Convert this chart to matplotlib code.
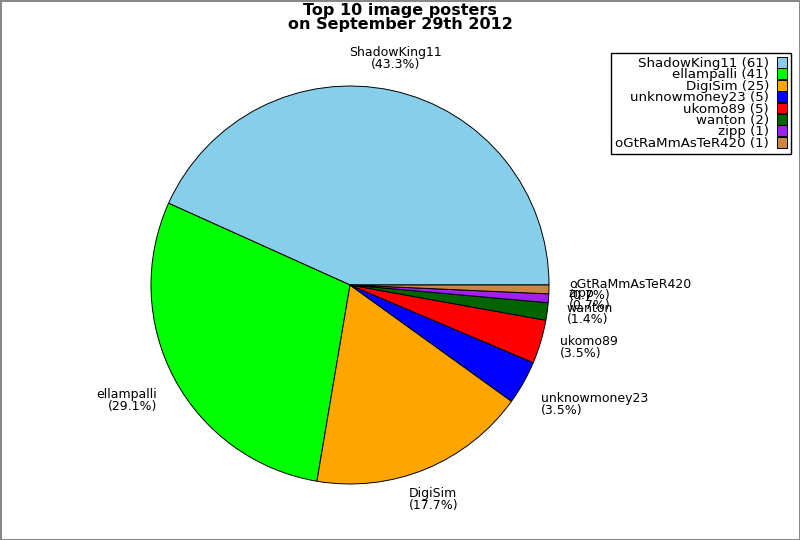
import numpy as np
import matplotlib.pyplot as plt

names = ['ShadowKing11', 'ellampalli', 'DigiSim', 'unknowmoney23',
         'ukomo89', 'wanton', 'zipp', 'oGtRaMmAsTeR420']
counts = [61, 41, 25, 5, 5, 2, 1, 1]
colors = ['#87CEEB', '#00FF00', '#FFA500', '#0000FF',
          '#FF0000', '#006400', '#A020F0', '#CD853F']
title = 'Top 10 image posters\non September 29th 2012'

total = float(sum(counts))
labels = ['%s\n(%.1f%%)' % (n, 100.0 * c / total) for n, c in zip(names, counts)]

fig = plt.figure(figsize=(8, 5.4), dpi=100)
fig.patch.set_edgecolor('#888888')
fig.patch.set_linewidth(2)

# pie centre at (350, 285) px, radius 199 px
cx, cy, r = 350, 540 - 285, 199
ax = fig.add_axes([(cx - r) / 800.0, (cy - r) / 540.0, 2 * r / 800.0, 2 * r / 540.0])
wedges, texts = ax.pie(counts, labels=labels, colors=colors, startangle=0,
                       labeldistance=1.1,
                       wedgeprops=dict(edgecolor='black', linewidth=0.7),
                       textprops=dict(fontsize=9, linespacing=0.85))
ax.set_xlim(-1, 1)
ax.set_ylim(-1, 1)
ax.set_aspect('equal')
ax.axis('off')

for w, t in zip(wedges, texts):
    a = np.deg2rad((w.theta1 + w.theta2) / 2.0)
    c, s = np.cos(a), np.sin(a)
    if abs(c) < 0.45:
        t.set_ha('center')
    elif c > 0:
        t.set_ha('left')
    else:
        t.set_ha('right')
    if abs(s) < 0.35:
        t.set_va('center')
    elif s > 0:
        t.set_va('bottom')
    else:
        t.set_va('top')
    t.set_multialignment(t.get_ha())

fig.suptitle(title, x=0.5, y=0.995, va='top', fontsize=11.5, fontweight='bold',
             linespacing=0.95)

leg_labels = ['%s (%d)' % (n, c) for n, c in zip(names, counts)]
leg = fig.legend(wedges, leg_labels, loc='upper right',
                 bbox_to_anchor=(791 / 800.0, 1 - 53 / 540.0),
                 borderaxespad=0, markerfirst=False, fancybox=False,
                 edgecolor='black', framealpha=1, fontsize=9.6,
                 labelspacing=-0.12, handlelength=0.75, handleheight=0.85,
                 handletextpad=0.6, borderpad=0.3)
leg.get_frame().set_linewidth(1)

fig.savefig('out.png', dpi=100)
